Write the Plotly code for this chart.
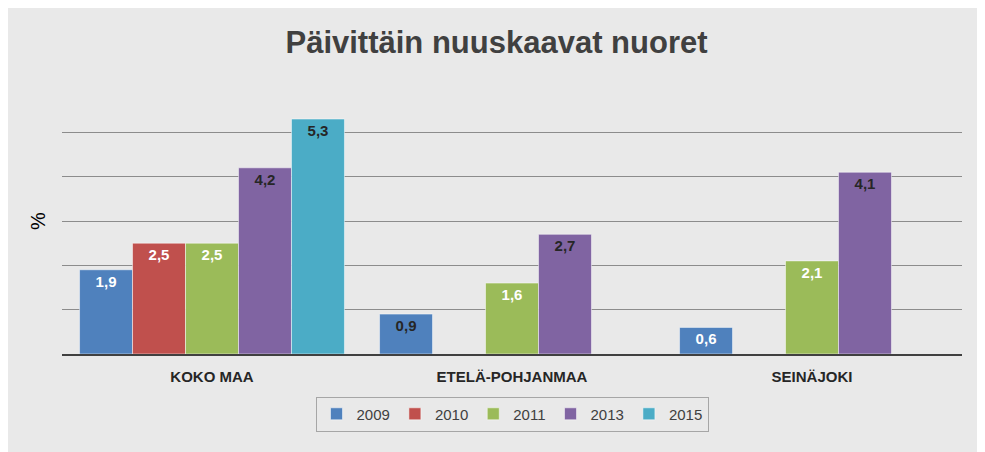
import plotly.graph_objects as go

categories = ["KOKO MAA", "ETELÄ-POHJANMAA", "SEINÄJOKI"]
years = ["2009", "2010", "2011", "2013", "2015"]
values = {
    "2009": [1.9, 0.9, 0.6],
    "2010": [2.5, None, None],
    "2011": [2.5, 1.6, 2.1],
    "2013": [4.2, 2.7, 4.1],
    "2015": [5.3, None, None],
}
colors = {"2009": "#4f81bd", "2010": "#c0504d", "2011": "#9bbb59", "2013": "#8064a2", "2015": "#4bacc6"}
text_colors = {
    "2009": ["white", "#262626", "white"],
    "2010": ["white", "white", "white"],
    "2011": ["white", "white", "white"],
    "2013": ["#262626", "#262626", "#262626"],
    "2015": ["#262626", "#262626", "#262626"],
}

fig = go.Figure()
for y in years:
    vals = values[y]
    fig.add_trace(go.Bar(
        name=y, x=categories, y=vals,
        marker=dict(color=colors[y], line=dict(color="white", width=0.5)),
        text=[("" if v is None else "<b>" + f"{v:.1f}".replace(".", ",") + "</b>") for v in vals],
        textposition="inside", insidetextanchor="end",
        textfont=dict(size=15, color=text_colors[y], family="Liberation Sans"),
        textangle=0, cliponaxis=False,
    ))

fig.update_layout(
    width=977, height=444,
    margin=dict(l=54, r=23, t=80, b=98),
    barmode="group", bargap=0.117, bargroupgap=0,
    paper_bgcolor="#e9e9e9", plot_bgcolor="rgba(0,0,0,0)",
    font=dict(family="Liberation Sans", color="#404040"),
    title=dict(text="<b>Päivittäin nuuskaavat nuoret</b>", x=0.5, xanchor="center",
               y=0.923, yanchor="middle", font=dict(size=31, color="#404040", family="Liberation Sans")),
    legend=dict(orientation="h", x=0.5, xanchor="center", y=-0.16, yanchor="top",
                bordercolor="#a6a6a6", borderwidth=1, bgcolor="rgba(0,0,0,0)",
                font=dict(size=15, color="#404040")),
    showlegend=True,
    uniformtext=dict(minsize=10, mode="show"),
)
fig.update_xaxes(showline=True, linecolor="#404040", linewidth=2,
                 tickfont=dict(size=15, color="#262626"), ticklabelstandoff=8)
fig.update_xaxes(tickvals=categories, ticktext=[f"<b>{c}</b>" for c in categories])
fig.update_yaxes(range=[0, 6], dtick=1, showticklabels=False, gridcolor="#8c8c8c", gridwidth=1,
                 zeroline=False, title=dict(text="%", font=dict(size=20, color="#000000"), standoff=10))

fig.write_html("out.html")
